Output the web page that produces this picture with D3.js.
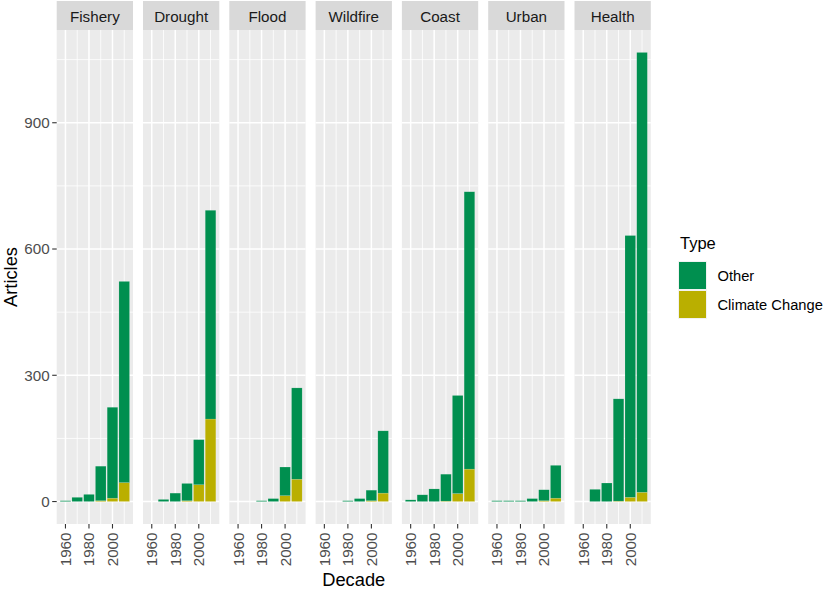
<!DOCTYPE html>
<html>
<head>
<meta charset="utf-8">
<script src="https://cdn.jsdelivr.net/npm/d3@7"></script>
<style>
  html, body { margin: 0; padding: 0; background: #fff; }
  svg { display: block; font-family: "Liberation Sans", Arial, Helvetica, sans-serif; }
</style>
</head>
<body>
<svg id="chart" width="829" height="592"></svg>
<script>
// Facets, decades and article counts
const facets = ['Fishery', 'Drought', 'Flood', 'Wildfire', 'Coast', 'Urban', 'Health'];
const decades = [1960, 1970, 1980, 1990, 2000, 2010];
const types = ['Other', 'Climate Change'];

const otherCounts = [
  [2, 10, 17, 82, 216, 478],   // Fishery
  [0, 5, 20, 41, 107, 496],    // Drought
  [0, 0, 2, 7, 68, 217],       // Flood
  [0, 0, 2, 7, 25, 148],       // Wildfire
  [4, 16, 30, 64, 233, 659],   // Coast
  [2, 2, 2, 7, 26, 78],        // Urban
  [0, 29, 44, 243, 622, 1045]  // Health
];
const climateCounts = [
  [0, 0, 0, 2, 8, 45],
  [0, 0, 0, 2, 40, 196],
  [0, 0, 0, 0, 14, 53],
  [0, 0, 0, 0, 2, 20],
  [0, 0, 0, 1, 19, 77],
  [0, 0, 0, 0, 2, 8],
  [0, 0, 0, 1, 10, 22]
];

const yTicks = [0, 300, 600, 900];
const yMinor = [150, 450, 750, 1050];
const xTicks = [1960, 1980, 2000];
const xMinor = [1970, 1990, 2010];

const COLORS = { 'Other': '#008F4F', 'Climate Change': '#BAAF00' };

// Layout (matches ggplot facet_grid look)
const PANEL_LEFT = 56.7;
const PANEL_W = 76.3;
const PANEL_GAP = 10;
const STRIP_TOP = 1;
const PANEL_TOP = 30;
const PANEL_BOTTOM = 524;

const svg = d3.select('#chart');

// stacked rows: Climate Change at the bottom, Other on top
const rows = [];
facets.forEach((f, i) => {
  decades.forEach((dec, j) => {
    const cc = climateCounts[i][j];
    const ot = otherCounts[i][j];
    rows.push({ facet: f, decade: dec, type: 'Climate Change', y0: 0, y1: cc });
    rows.push({ facet: f, decade: dec, type: 'Other', y0: cc, y1: cc + ot });
  });
});

const maxTotal = d3.max(rows, d => d.y1);
const yScale = d3.scaleLinear()
  .domain([-0.05 * maxTotal, 1.05 * maxTotal])
  .range([PANEL_BOTTOM, PANEL_TOP]);

// bars are 9 years wide (0.9 of a decade), then 5% expansion
const barHalf = 4.5;
const xLo = decades[0] - barHalf, xHi = decades[decades.length - 1] + barHalf;
const xPad = (xHi - xLo) * 0.05;
const xScale = d3.scaleLinear()
  .domain([xLo - xPad, xHi + xPad])
  .range([0, PANEL_W]);

const panels = svg.selectAll('g.panel')
  .data(facets)
  .enter()
  .append('g')
  .attr('class', 'panel')
  .attr('transform', (d, i) => `translate(${PANEL_LEFT + i * (PANEL_W + PANEL_GAP)},0)`);

// strip
panels.append('rect')
  .attr('x', 0)
  .attr('y', STRIP_TOP)
  .attr('width', PANEL_W)
  .attr('height', PANEL_TOP - STRIP_TOP)
  .attr('fill', '#D9D9D9');

panels.append('text')
  .attr('x', PANEL_W / 2)
  .attr('y', 21.5)
  .attr('text-anchor', 'middle')
  .style('font-size', '15.2px')
  .style('fill', '#1A1A1A')
  .text(d => d);

// panel background
panels.append('rect')
  .attr('x', 0)
  .attr('y', PANEL_TOP)
  .attr('width', PANEL_W)
  .attr('height', PANEL_BOTTOM - PANEL_TOP)
  .attr('fill', '#EBEBEB');

// grid lines
panels.selectAll('line.hminor')
  .data(yMinor)
  .enter()
  .append('line')
  .attr('x1', 0).attr('x2', PANEL_W)
  .attr('y1', d => yScale(d)).attr('y2', d => yScale(d))
  .attr('stroke', '#fff').attr('stroke-width', 0.8);

panels.selectAll('line.vminor')
  .data(xMinor)
  .enter()
  .append('line')
  .attr('x1', d => xScale(d)).attr('x2', d => xScale(d))
  .attr('y1', PANEL_TOP).attr('y2', PANEL_BOTTOM)
  .attr('stroke', '#fff').attr('stroke-width', 0.8);

panels.selectAll('line.hmajor')
  .data(yTicks)
  .enter()
  .append('line')
  .attr('x1', 0).attr('x2', PANEL_W)
  .attr('y1', d => yScale(d)).attr('y2', d => yScale(d))
  .attr('stroke', '#fff').attr('stroke-width', 1.5);

panels.selectAll('line.vmajor')
  .data(xTicks)
  .enter()
  .append('line')
  .attr('x1', d => xScale(d)).attr('x2', d => xScale(d))
  .attr('y1', PANEL_TOP).attr('y2', PANEL_BOTTOM)
  .attr('stroke', '#fff').attr('stroke-width', 1.5);

// bars
panels.selectAll('rect.bar')
  .data(f => rows.filter(r => r.facet === f && r.y1 > r.y0))
  .enter()
  .append('rect')
  .attr('class', 'bar')
  .attr('x', d => xScale(d.decade - barHalf))
  .attr('width', d => xScale(d.decade + barHalf) - xScale(d.decade - barHalf))
  .attr('y', d => yScale(d.y1))
  .attr('height', d => yScale(d.y0) - yScale(d.y1))
  .attr('fill', d => COLORS[d.type])
  .attr('stroke', 'rgba(255,255,255,0.25)')
  .attr('stroke-width', 0.5);

// x axis ticks and labels per panel
panels.selectAll('line.xtick')
  .data(xTicks)
  .enter()
  .append('line')
  .attr('x1', d => xScale(d)).attr('x2', d => xScale(d))
  .attr('y1', PANEL_BOTTOM).attr('y2', PANEL_BOTTOM + 4.5)
  .attr('stroke', '#333').attr('stroke-width', 1.1);

panels.selectAll('text.xlab')
  .data(xTicks)
  .enter()
  .append('text')
  .attr('transform', d => `translate(${xScale(d)},${PANEL_BOTTOM + 8.5}) rotate(-90)`)
  .attr('text-anchor', 'end')
  .attr('dy', '0.36em')
  .style('font-size', '15.2px')
  .style('fill', '#4D4D4D')
  .text(d => d);

// y axis on the first panel only
const yAxis = svg.append('g');
yAxis.selectAll('line')
  .data(yTicks)
  .enter()
  .append('line')
  .attr('x1', PANEL_LEFT - 4.5).attr('x2', PANEL_LEFT)
  .attr('y1', d => yScale(d)).attr('y2', d => yScale(d))
  .attr('stroke', '#333').attr('stroke-width', 1.1);

yAxis.selectAll('text')
  .data(yTicks)
  .enter()
  .append('text')
  .attr('x', PANEL_LEFT - 7)
  .attr('y', d => yScale(d))
  .attr('dy', '0.36em')
  .attr('text-anchor', 'end')
  .style('font-size', '15.2px')
  .style('fill', '#4D4D4D')
  .text(d => d);

// axis titles
const panelsRight = PANEL_LEFT + facets.length * PANEL_W + (facets.length - 1) * PANEL_GAP;
svg.append('text')
  .attr('x', (PANEL_LEFT + panelsRight) / 2)
  .attr('y', 586)
  .attr('text-anchor', 'middle')
  .style('font-size', '18.3px')
  .style('fill', '#000')
  .text('Decade');

svg.append('text')
  .attr('transform', `translate(16.5,${(PANEL_TOP + PANEL_BOTTOM) / 2}) rotate(-90)`)
  .attr('text-anchor', 'middle')
  .style('font-size', '18.3px')
  .style('fill', '#000')
  .text('Articles');

// legend
const legend = svg.append('g').attr('transform', 'translate(678,0)');
legend.append('text')
  .attr('x', 2)
  .attr('y', 249.3)
  .style('font-size', '16.5px')
  .style('fill', '#000')
  .text('Type');

const keys = legend.selectAll('g.key')
  .data(types)
  .enter()
  .append('g')
  .attr('class', 'key')
  .attr('transform', (d, i) => `translate(0,${261 + i * 29})`);

keys.append('rect')
  .attr('width', 29).attr('height', 29)
  .attr('fill', '#F2F2F2');

keys.append('rect')
  .attr('x', 1).attr('y', 1)
  .attr('width', 27).attr('height', 27)
  .attr('fill', d => COLORS[d]);

keys.append('text')
  .attr('x', 39.5)
  .attr('y', 14.5)
  .attr('dy', '0.36em')
  .style('font-size', '14.7px')
  .style('fill', '#000')
  .text(d => d);
</script>
</body>
</html>
